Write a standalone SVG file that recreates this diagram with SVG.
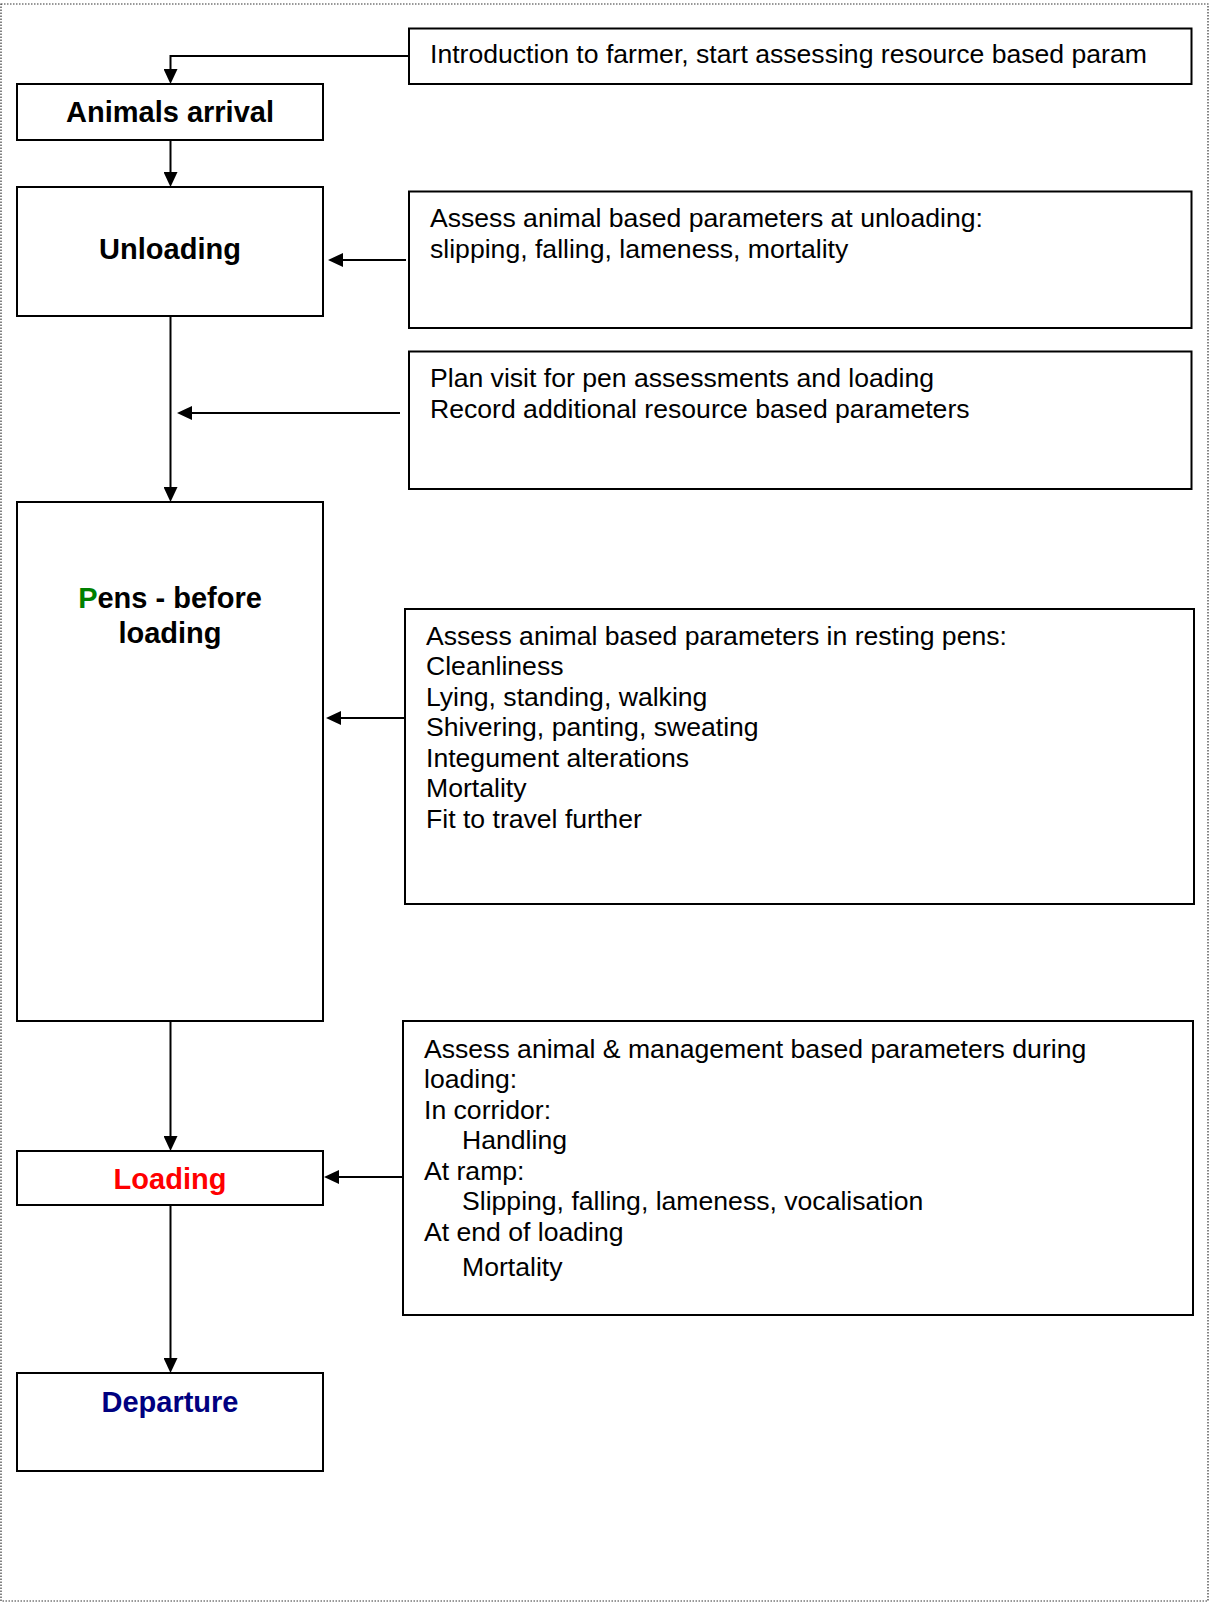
<svg xmlns="http://www.w3.org/2000/svg" width="1210" height="1603" viewBox="0 0 1210 1603">
<style>
  .box { fill: #ffffff; stroke: #000000; stroke-width: 2; }
  .conn { fill: none; stroke: #000000; stroke-width: 2; }
  .lbl { font-family: "Liberation Sans", Arial, sans-serif; font-size: 29px; font-weight: bold; fill: #000000; text-anchor: middle; }
  .txt { font-family: "Liberation Sans", Arial, sans-serif; font-size: 26.6px; fill: #000000; }
</style>
<defs>
  <marker id="arrow" markerUnits="userSpaceOnUse" markerWidth="16" markerHeight="14" refX="1" refY="7" orient="auto">
    <path d="M0,0 L15,7 L0,14 Z" fill="#000000"/>
  </marker>
</defs>
<rect x="1" y="4" width="1207" height="1597" fill="#ffffff" stroke="#333333" stroke-width="1.2" stroke-dasharray="1.5 1.5"/>

<g id="connectors">
  <path class="conn" d="M409,56 H170.5 V70" marker-end="url(#arrow)"/>
  <path class="conn" d="M170.5,140 V173" marker-end="url(#arrow)"/>
  <path class="conn" d="M406,260 H342" marker-end="url(#arrow)"/>
  <path class="conn" d="M170.5,316 V488" marker-end="url(#arrow)"/>
  <path class="conn" d="M400,413 H191" marker-end="url(#arrow)"/>
  <path class="conn" d="M404,718 H340" marker-end="url(#arrow)"/>
  <path class="conn" d="M170.5,1021 V1137" marker-end="url(#arrow)"/>
  <path class="conn" d="M402,1177 H338" marker-end="url(#arrow)"/>
  <path class="conn" d="M170.5,1205 V1359" marker-end="url(#arrow)"/>
</g>

<g id="intro">
  <rect class="box" x="409" y="28.5" width="782.5" height="55.5"/>
  <text class="txt" x="430" y="63">Introduction to farmer, start assessing resource based param</text>
</g>

<g id="animals-arrival">
  <rect class="box" x="17" y="84" width="306" height="56"/>
  <text class="lbl" x="170" y="122">Animals arrival</text>
</g>

<g id="unloading">
  <rect class="box" x="17" y="187" width="306" height="129"/>
  <text class="lbl" x="170" y="259">Unloading</text>
</g>

<g id="assess-unloading">
  <rect class="box" x="409" y="191.5" width="782.5" height="136.5"/>
  <text class="txt" x="430" y="227">Assess animal based parameters at unloading:</text>
  <text class="txt" x="430" y="258">slipping, falling, lameness, mortality</text>
</g>

<g id="plan-visit">
  <rect class="box" x="409" y="351.5" width="782.5" height="137.5"/>
  <text class="txt" x="430" y="387">Plan visit for pen assessments and loading</text>
  <text class="txt" x="430" y="418">Record additional resource based parameters</text>
</g>

<g id="pens">
  <rect class="box" x="17" y="502" width="306" height="519"/>
  <text class="lbl" x="170" y="608"><tspan fill="#008000">P</tspan>ens - before</text>
  <text class="lbl" x="170" y="642.5">loading</text>
</g>

<g id="assess-pens">
  <rect class="box" x="405" y="609" width="789" height="295"/>
  <text class="txt" x="426">
    <tspan x="426" y="644.5">Assess animal based parameters in resting pens:</tspan>
    <tspan x="426" y="675">Cleanliness</tspan>
    <tspan x="426" y="705.5">Lying, standing, walking</tspan>
    <tspan x="426" y="736">Shivering, panting, sweating</tspan>
    <tspan x="426" y="766.5">Integument alterations</tspan>
    <tspan x="426" y="797">Mortality</tspan>
    <tspan x="426" y="827.5">Fit to travel further</tspan>
  </text>
</g>

<g id="loading">
  <rect class="box" x="17" y="1151" width="306" height="54"/>
  <text class="lbl" x="170" y="1189" style="fill:#ff0000">Loading</text>
</g>

<g id="assess-loading">
  <rect class="box" x="403" y="1021" width="790" height="294"/>
  <text class="txt">
    <tspan x="424" y="1057.5">Assess animal &amp; management based parameters during</tspan>
    <tspan x="424" y="1088">loading:</tspan>
    <tspan x="424" y="1118.5">In corridor:</tspan>
    <tspan x="462" y="1149">Handling</tspan>
    <tspan x="424" y="1179.5">At ramp:</tspan>
    <tspan x="462" y="1210">Slipping, falling, lameness, vocalisation</tspan>
    <tspan x="424" y="1240.5">At end of loading</tspan>
    <tspan x="462" y="1276">Mortality</tspan>
  </text>
</g>

<g id="departure">
  <rect class="box" x="17" y="1373" width="306" height="98"/>
  <text class="lbl" x="170" y="1412" style="fill:#000080">Departure</text>
</g>
</svg>
